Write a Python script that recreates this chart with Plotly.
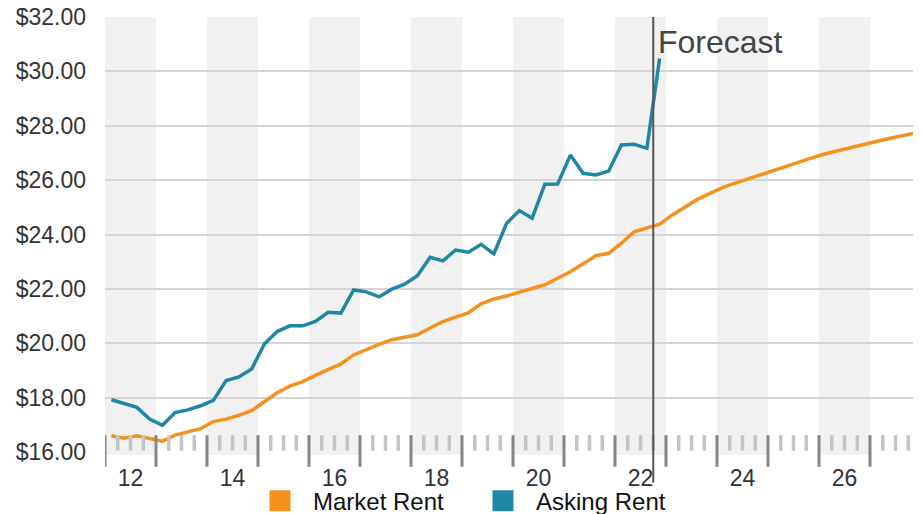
import plotly.graph_objects as go

# ---------------- data ----------------
start_year = 2012
forecast_start = 2022.75

market_rent = [
    16.60, 16.51, 16.60, 16.49, 16.40, 16.62, 16.73, 16.86,
    17.12, 17.21, 17.35, 17.52, 17.85, 18.18, 18.42, 18.59,
    18.82, 19.04, 19.24, 19.57, 19.78, 19.96, 20.13, 20.21,
    20.31, 20.56, 20.80, 20.96, 21.12, 21.45, 21.63, 21.74,
    21.88, 22.03, 22.15, 22.39, 22.63, 22.92, 23.22, 23.31,
    23.68, 24.10, 24.23, 24.38, 24.72, 25.01, 25.30, 25.52,
    25.74, 25.90, 26.06, 26.22, 26.37, 26.53, 26.68, 26.83,
    26.97, 27.09, 27.20, 27.32, 27.42, 27.53, 27.63, 27.73,
]
asking_rent = [
    17.92, 17.77, 17.64, 17.21, 16.98, 17.45, 17.55, 17.70,
    17.90, 18.63, 18.76, 19.05, 19.97, 20.43, 20.64, 20.64,
    20.80, 21.14, 21.11, 21.96, 21.89, 21.71, 21.99, 22.17,
    22.48, 23.16, 23.03, 23.43, 23.35, 23.64, 23.29, 24.41,
    24.88, 24.60, 25.85, 25.86, 26.92, 26.25, 26.19, 26.33,
    27.29, 27.32, 27.17, 30.47,
]
year_ticks = [2012, 2014, 2016, 2018, 2020, 2022, 2024, 2026]
year_labels = ["12", "14", "16", "18", "20", "22", "24", "26"]
y_ticks = [16, 18, 20, 22, 24, 26, 28, 30, 32]
y_labels = ["$%.2f" % v for v in y_ticks]

# quarter midpoints as fractional years
def quarter_x(n):
    return [start_year + (k + 0.5) / 4 for k in range(n)]

ORANGE = "#F4911F"
BLUE = "#1F86A6"
FONT = "Liberation Sans, Arial, Helvetica, sans-serif"

# page body has an 8px margin, so the figure is sized to fill the rest of the window
W, H = 913, 506

fig = go.Figure()
fig.add_trace(go.Scatter(x=quarter_x(len(market_rent)), y=market_rent, mode="lines",
                         line=dict(color=ORANGE, width=3.5), showlegend=False, hoverinfo="skip"))
fig.add_trace(go.Scatter(x=quarter_x(len(asking_rent)), y=asking_rent, mode="lines",
                         line=dict(color=BLUE, width=3.5), showlegend=False, hoverinfo="skip"))
# legend entries with square swatches
for name, col in [("Market Rent", ORANGE), ("Asking Rent", BLUE)]:
    fig.add_trace(go.Scatter(x=[None], y=[None], mode="markers", name=name,
                             marker=dict(symbol="square", size=16, color=col,
                                         line=dict(color=col, width=5))))

shapes = []
x_min, x_max = 2012, 2028
# alternate year bands
for yr in range(x_min, x_max, 2):
    shapes.append(dict(type="rect", xref="x", yref="paper", x0=yr, x1=yr + 1,
                       y0=-0.007, y1=1, fillcolor="#F1F1F1", line=dict(width=0),
                       layer="below"))
# quarter minor ticks
for yr in range(x_min, x_max):
    for q in (1, 2, 3):
        shapes.append(dict(type="line", xref="x", yref="paper", x0=yr + q / 4, x1=yr + q / 4,
                           y0=0.003, y1=0.0386, line=dict(color="#C4C4C4", width=3.5)))
# year major ticks
for yr in range(x_min, x_max + 1):
    shapes.append(dict(type="line", xref="x", yref="paper", x0=yr, x1=yr,
                       y0=-0.034, y1=0.0386, line=dict(color="#858585", width=3)))
# forecast divider
shapes.append(dict(type="line", xref="x", yref="paper", x0=forecast_start, x1=forecast_start,
                   y0=-0.0706, y1=1, line=dict(color="#555555", width=2)))

fig.update_layout(
    width=W, height=H,
    margin=dict(l=97, r=0, t=9, b=62, autoexpand=False),
    plot_bgcolor="white", paper_bgcolor="white",
    font=dict(family=FONT, size=23, color="#333333"),
    shapes=shapes,
    annotations=[dict(x=forecast_start, y=1, xref="x", yref="paper", text="Forecast",
                      showarrow=False, xanchor="left", yanchor="top", xshift=3, yshift=-5,
                      font=dict(family=FONT, size=32, color="#444444"))],
    legend=dict(orientation="h", xref="container", yref="container",
                x=239 / W, y=0.070, xanchor="left", yanchor="top",
                itemwidth=56, entrywidthmode="pixels", entrywidth=152,
                font=dict(family=FONT, size=24, color="#111111"),
                bgcolor="rgba(0,0,0,0)"),
    xaxis=dict(range=[x_min, x_max], tickmode="array", tickvals=[t + 0.5 for t in year_ticks],
               ticktext=year_labels, showgrid=False, zeroline=False, showline=False,
               ticks="", ticklabelstandoff=10, automargin=False, fixedrange=True),
    yaxis=dict(range=[16, 32], tickmode="array", tickvals=y_ticks, ticktext=y_labels,
               showgrid=True, gridcolor="#D4D4D4", gridwidth=2, zeroline=False,
               showline=False, ticks="", ticklabelstandoff=18, automargin=False,
               ticklabeloverflow="allow", fixedrange=True),
)

fig.write_html("out.html")
